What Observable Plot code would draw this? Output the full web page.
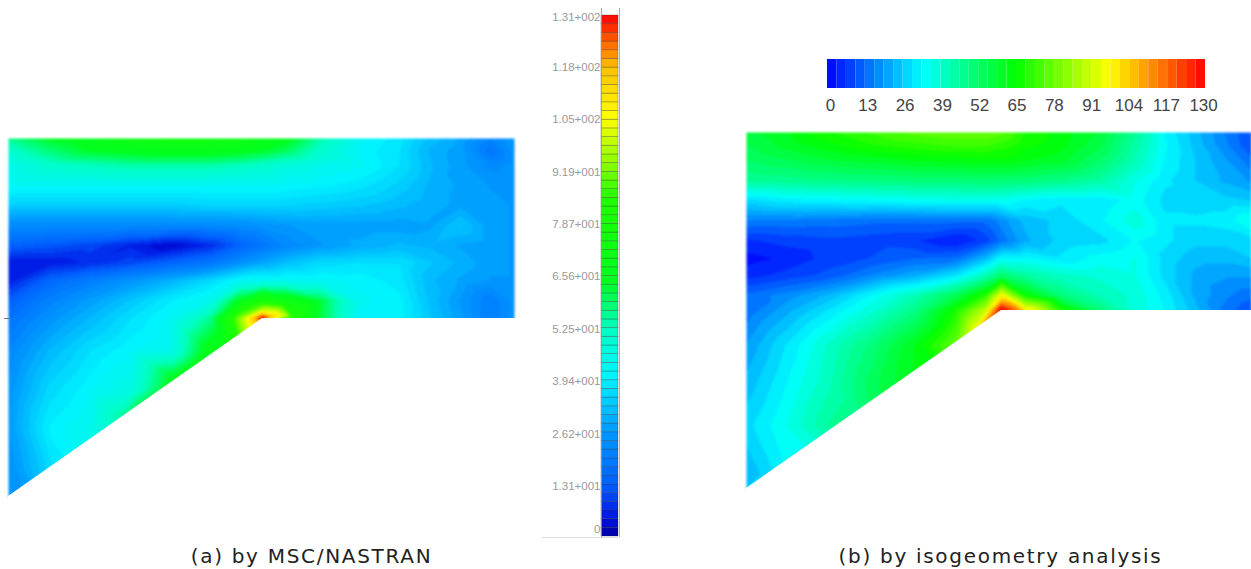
<!DOCTYPE html>
<html>
<head>
<meta charset="utf-8">
<script src="https://cdn.jsdelivr.net/npm/d3@7"></script>
<script src="https://cdn.jsdelivr.net/npm/@observablehq/plot@0.6"></script>
<style>
html,body{margin:0;padding:0;background:#fff}
#row{display:flex;width:1251px;height:569px;overflow:hidden}
svg{display:block;flex:none}
g[font-size="20"]{letter-spacing:1.7px}
</style>
</head>
<body>
<div id="row"></div>
<script>
// ---------- panel (a) MSC/NASTRAN ----------
const xsA = [8,50,90,130,170,210,240,262,285,320,360,400,430,460,490,514];
const ysA = [138,150,165,185,205,225,245,262,280,300,318,350,390,430,470,496];
const valuesA = [
 [56,64,68,72,74,74,72,70,66,54,42,38,32,28,22,26],
 [50,58,64,66,68,68,66,64,60,50,41,37,30,27,18,25],
 [44,50,52,54,54,54,52,50,47,44,42,37,31,27,23,25],
 [42,42,42,42,42,42,42,42,41,40,38,34,30,28,26,26],
 [34,34,34,34,34,35,35,35,35,34,33,31,29,28,27,26],
 [23,23,23,23,23,23,24,25,26,27,27,27,28,33,27,26],
 [14,12,10,6,2,7,14,18,22,26,29,31,30,28,27,26],
 [5,5,7,10,14,18,24,28,32,36,37,37,33,30,27,26],
 [5,15,20,25,30,36,42,43,43,42,41,38,31,28,26,26],
 [13,21,27,33,39,44,66,78,72,62,42,40,32,26,20,25],
 [17,25,31,37,42,56,95,131,85,62,41,40,33,27,20,25],
 [22,31,37,41,44,68,72,72,60,45,41,40,33,27,20,25],
 [25,36,41,46,66,68,60,50,45,42,40,40,33,27,20,25],
 [26,40,44,52,60,60,50,45,42,42,40,40,33,27,20,25],
 [24,36,42,45,45,45,45,42,42,42,40,40,33,27,20,25],
 [24,32,38,40,40,40,40,40,40,40,40,40,33,27,20,25]
];
const hotXA = [262,262,272,285,292,250,240,225,200,190,175,140,120];
const hotYA = [317,308,316,316,316,326,333,344,360,368,378,403,417];
const hotVA = [131,95,115,100,85,105,90,72,66,66,66,60,55];
const maskXA = [8,262,520];
const maskYA = [496,318,318];
const stopsA  = [0,4,13,26,40,52,64,85,92,105,118,131];
const colorsA = ["#00009a","#0010e0","#0060ff","#0098ff","#00f4ff","#00ffc4","#00ff20","#20ff00","#78ff00","#ffff00","#ffc000","#ff0000"];
const bandsA = 60;
const tickLabelsA = ["1.31+002","1.18+002","1.05+002","9.19+001","7.87+001","6.56+001","5.25+001","3.94+001","2.62+001","1.31+001","0"];
const tickLabelYA = [17,67,119,172,224,276,329,381,434,486,529];

// ---------- panel (b) isogeometry ----------
const xsB = [746,788,830,872,914,956,985,1001,1025,1060,1100,1135,1165,1195,1225,1251];
const ysB = [132,145,160,180,200,220,240,258,275,295,310,345,385,425,465,488];
const valuesB = [
 [57,62,68,72,76,78,78,76,68,64,58,46,32,24,16,10],
 [55,60,64,68,70,72,72,70,66,63,56,44,33,25,17,10],
 [52,55,58,60,62,63,64,64,62,60,52,42,32,26,20,14],
 [46,47,48,49,50,50,51,51,50,48,44,36,30,26,22,19],
 [28,31,32,33,34,35,35,35,32,30,30,34,28,27,27,26],
 [16,16,15,14,14,14,14,18,24,27,32,38,30,30,31,36],
 [6,8,9,8,7,3,8,14,22,27,28,33,30,27,27,28],
 [2,4,8,10,13,14,24,33,33,30,34,36,28,24,24,26],
 [5,8,11,17,22,30,42,52,45,40,38,36,28,22,20,20],
 [14,18,24,33,42,55,70,98,66,50,42,38,31,22,17,14],
 [14,22,30,38,48,68,90,130,100,70,50,38,32,24,15,10],
 [20,30,40,50,62,78,85,85,85,70,50,38,32,24,15,10],
 [24,33,42,54,62,66,66,66,66,60,50,38,32,24,15,10],
 [28,36,46,52,56,56,56,56,56,55,50,38,32,24,15,10],
 [24,33,36,38,38,38,38,38,38,38,38,38,32,24,15,10],
 [26,30,34,36,36,36,36,36,36,36,36,36,32,24,15,10]
];
const hotXB = [1001,1001,1012,990,975,1030];
const hotYB = [308,300,309,318,328,309];
const hotVB = [130,105,120,115,95,98];
const maskXB = [746,1001,1256];
const maskYB = [488,310,310];
const stopsB  = [0,16,33,65,97,130];
const colorsB = ["#0000ff","#0080ff","#00ffff","#00ff00","#ffff00","#ff0000"];
const bandsB = 40;
const tickLabelsB = [0,13,26,39,52,65,78,91,104,117,130];

const captionA = "(a) by MSC/NASTRAN";
const captionB = "(b) by isogeometry analysis";

function nodes(xs, ys, vals, hx, hy, hv) {
  const out = [];
  ys.forEach((y, r) => xs.forEach((x, c) => out.push({x, y, v: vals[r][c]})));
  hx.forEach((x, i) => out.push({x, y: hy[i], v: hv[i]}));
  return out;
}
function bandScale(stops, colors, n, max) {
  const ramp = d3.scaleLinear().domain(stops).range(colors);
  return {
    type: "threshold",
    domain: d3.range(1, n).map(i => i * max / n),
    range: d3.range(n).map(i => ramp((i + .5) * max / n))
  };
}
const capFont = {fontFamily: "'DejaVu Sans'", fontSize: 20, fill: "#222"};

// left plot
const nA = nodes(xsA, ysA, valuesA, hotXA, hotYA, hotVA);
const cellsA = d3.range(bandsA).map(i => ({i, v: (i + .5) * 131 / bandsA}));
const pxA = 521 / bandsA;
const left = Plot.plot({
  width: 625, height: 569, margin: 0,
  x: {domain: [0, 625], axis: null},
  y: {domain: [0, 569], reverse: true, axis: null},
  color: bandScale(stopsA, colorsA, bandsA, 131),
  marks: [
    Plot.raster(nA, {x: "x", y: "y", fill: "v", x1: 8, x2: 514, y1: 138, y2: 497, interpolate: "barycentric", pixelSize: 1}),
    Plot.areaY(maskXA.map((x, i) => ({x, y: maskYA[i]})), {x: "x", y1: "y", y2: () => 505, fill: "#fff"}),
    Plot.ruleY([318], {x1: () => 4, x2: () => 9, stroke: "#777", strokeWidth: 1}),
    Plot.rect(cellsA, {x1: () => 601, x2: () => 618, y1: d => 536 - d.i * pxA, y2: d => 536 - (d.i + 1) * pxA, fill: "v", stroke: "#222", strokeOpacity: .4, strokeWidth: .7}),
    Plot.ruleX([601, 619], {y1: () => 8, y2: () => 537, stroke: "#999", strokeWidth: .8}),
    Plot.ruleY([537], {x1: () => 542, x2: () => 618, stroke: "#ddd", strokeWidth: 1}),
    Plot.text(tickLabelsA, {x: () => 600, y: (d, i) => tickLabelYA[i], text: d => d, textAnchor: "end", fontFamily: "'Liberation Sans'", fontSize: 11.5, fill: "#999"}),
    Plot.text([captionA], {x: () => 311, y: () => 556, text: d => d, textAnchor: "middle", ...capFont})
  ]
});

// right plot
const nB = nodes(xsB, ysB, valuesB, hotXB, hotYB, hotVB);
const cellsB = d3.range(bandsB).map(i => ({i, v: (i + .5) * 130 / bandsB}));
const pxB = 378 / bandsB;
const right = Plot.plot({
  width: 626, height: 569, margin: 0,
  x: {domain: [625, 1251], axis: null},
  y: {domain: [0, 569], reverse: true, axis: null},
  color: bandScale(stopsB, colorsB, bandsB, 130),
  marks: [
    Plot.raster(nB, {x: "x", y: "y", fill: "v", x1: 746, x2: 1251, y1: 132, y2: 489, interpolate: "barycentric", pixelSize: 1}),
    Plot.areaY(maskXB.map((x, i) => ({x, y: maskYB[i]})), {x: "x", y1: "y", y2: () => 500, fill: "#fff"}),
    Plot.rect(cellsB, {x1: d => 827 + d.i * pxB, x2: d => 827 + (d.i + 1) * pxB, y1: () => 59, y2: () => 88, fill: "v"}),
    Plot.text(tickLabelsB, {x: d => 830 + d * 2.87, y: () => 105, text: d => String(d), textAnchor: "middle", fontFamily: "'Liberation Sans'", fontSize: 17, fill: "#444"}),
    Plot.text([captionB], {x: () => 1000, y: () => 556, text: d => d, textAnchor: "middle", ...capFont})
  ]
});

const row = document.getElementById("row");
row.append(left, right);
row.querySelectorAll("image").forEach(im => { im.style.filter = "blur(1.2px)"; });
row.querySelectorAll("rect").forEach(r => { r.parentNode.style.filter = "blur(0.7px)"; });
</script>
</body>
</html>
